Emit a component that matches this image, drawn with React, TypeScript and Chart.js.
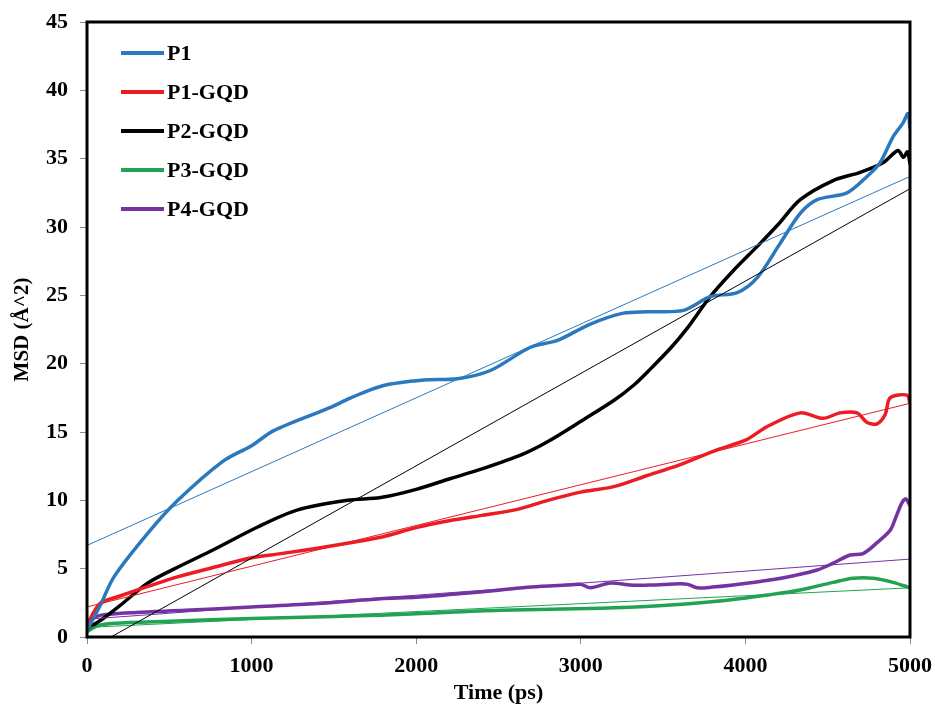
import React, { useEffect, useRef } from 'react';
import { Chart, registerables } from 'chart.js';

Chart.register(...registerables);

// ---- data ----
const seriesNames = ['P1', 'P1-GQD', 'P2-GQD', 'P3-GQD', 'P4-GQD'];
const seriesColors = ['#2A79BE', '#EC1C24', '#000000', '#21A353', '#7334A2'];

const p1Time = [0, 80, 164, 370, 552, 831, 1000, 1135, 1480, 1602, 1802, 2045, 2251, 2451, 2694, 2858, 3058, 3259, 3404, 3623, 3786, 3950, 4072, 4211, 4333, 4436, 4617, 4739, 4818, 4897, 4957, 4988, 5000];
const p1Msd = [0.5, 2.3, 4.4, 7.6, 10.0, 12.9, 14.0, 15.1, 16.8, 17.5, 18.4, 18.8, 18.9, 19.5, 21.2, 21.7, 22.9, 23.7, 23.8, 23.9, 24.9, 25.2, 26.3, 28.8, 31.0, 32.0, 32.5, 33.7, 34.7, 36.6, 37.6, 38.3, 37.2];

const p1gTime = [0, 40, 85, 200, 370, 550, 771, 1000, 1177, 1400, 1600, 1784, 2000, 2200, 2400, 2600, 2800, 3000, 3200, 3400, 3600, 3828, 4000, 4133, 4333, 4472, 4575, 4678, 4739, 4800, 4850, 4879, 4982, 5000];
const p1gMsd = [0.8, 1.8, 2.5, 3.0, 3.7, 4.4, 5.1, 5.8, 6.1, 6.5, 6.9, 7.3, 8.0, 8.5, 8.9, 9.3, 10.0, 10.6, 11.0, 11.8, 12.6, 13.7, 14.4, 15.4, 16.4, 16.0, 16.4, 16.4, 15.7, 15.6, 16.3, 17.5, 17.7, 17.1];

const p2gTime = [0, 85, 200, 370, 550, 771, 1037, 1280, 1584, 1784, 2000, 2209, 2400, 2652, 2800, 3016, 3200, 3319, 3422, 3550, 3647, 3786, 3926, 4090, 4200, 4333, 4533, 4697, 4836, 4927, 4960, 4985, 5000];
const p2gMsd = [0.6, 1.24, 2.3, 3.95, 5.1, 6.4, 8.05, 9.3, 10.0, 10.2, 10.8, 11.6, 12.3, 13.4, 14.3, 15.9, 17.3, 18.4, 19.6, 21.2, 22.6, 24.9, 26.8, 28.8, 30.2, 32.0, 33.4, 34.0, 34.7, 35.6, 35.1, 35.5, 34.6];

const p3gTime = [0, 60, 164, 500, 1000, 1500, 1784, 2000, 2512, 3119, 3500, 3726, 3900, 4133, 4333, 4533, 4654, 4776, 4897, 5000];
const p3gMsd = [0.4, 0.8, 1.0, 1.15, 1.35, 1.5, 1.6, 1.7, 1.95, 2.1, 2.3, 2.5, 2.7, 3.07, 3.44, 4.0, 4.3, 4.3, 4.0, 3.6];

const p4gTime = [0, 30, 85, 300, 600, 1000, 1400, 1784, 2000, 2300, 2512, 2700, 2918, 3000, 3058, 3180, 3300, 3422, 3604, 3650, 3707, 3800, 3926, 4169, 4300, 4436, 4533, 4636, 4715, 4800, 4879, 4909, 4950, 4975, 5000];
const p4gMsd = [0.8, 1.3, 1.6, 1.8, 1.95, 2.2, 2.45, 2.8, 2.9, 3.2, 3.44, 3.65, 3.8, 3.85, 3.6, 3.95, 3.8, 3.8, 3.9, 3.85, 3.6, 3.65, 3.8, 4.2, 4.5, 4.9, 5.4, 6.0, 6.1, 6.9, 7.8, 8.6, 9.8, 10.1, 9.6];

// linear trend lines: [start time, end time], [start msd, end msd]
const trendTimes = [[0, 5000], [0, 5000], [146, 5000], [0, 5000], [0, 5000]];
const trendMsd = [[6.7, 33.7], [2.2, 17.1], [0, 32.8], [0.7, 3.6], [1.3, 5.7]];

const xTickValues = [0, 1000, 2000, 3000, 4000, 5000];
const yTickValues = [0, 5, 10, 15, 20, 25, 30, 35, 40, 45];
const xTitle = 'Time (ps)';
const yTitle = 'MSD (Å^2)';

const seriesTimes = [p1Time, p1gTime, p2gTime, p3gTime, p4gTime];
const seriesMsd = [p1Msd, p1gMsd, p2gMsd, p3gMsd, p4gMsd];

const FONT = "'Liberation Serif', 'Times New Roman', serif";

function zip(xs: number[], ys: number[]) {
  return xs.map((x, i) => ({ x, y: ys[i] }));
}

const framePlugin = {
  id: 'frameBox',
  afterDatasetsDraw(chart: any) {
    const { ctx, chartArea: a } = chart;
    ctx.save();
    ctx.strokeStyle = '#000';
    ctx.lineWidth = 3;
    ctx.strokeRect(a.left, a.top, a.right - a.left, a.bottom - a.top);
    ctx.restore();
  },
};

const insideLegend = {
  id: 'insideLegend',
  afterDraw(chart: any) {
    const { ctx, chartArea: a } = chart;
    ctx.save();
    chart.data.datasets.forEach((ds: any) => {
      if (ds.isTrend) return;
      const i = ds.legendIndex;
      const y = a.top + 31 + i * 39;
      ctx.strokeStyle = ds.borderColor;
      ctx.lineWidth = 4;
      ctx.beginPath();
      ctx.moveTo(a.left + 34, y);
      ctx.lineTo(a.left + 77, y);
      ctx.stroke();
      ctx.fillStyle = '#000';
      ctx.font = `bold 22px ${FONT}`;
      ctx.textBaseline = 'middle';
      ctx.textAlign = 'left';
      ctx.fillText(ds.label, a.left + 80, y + 1);
    });
    ctx.restore();
  },
};

export default function App() {
  const canvasRef = useRef<HTMLCanvasElement | null>(null);

  useEffect(() => {
    document.body.style.margin = '0';
    const canvas = canvasRef.current;
    if (!canvas) return;

    const curveSets = seriesNames.map((name, i) => ({
      label: name,
      legendIndex: i,
      isTrend: false,
      data: zip(seriesTimes[i], seriesMsd[i]),
      borderColor: seriesColors[i],
      backgroundColor: seriesColors[i],
      borderWidth: 3.5,
      pointRadius: 0,
      tension: 0.3,
      fill: false,
      order: 2,
    }));
    const trendSets = seriesNames.map((name, i) => ({
      label: name + ' trend',
      isTrend: true,
      data: zip(trendTimes[i], trendMsd[i]),
      borderColor: seriesColors[i],
      backgroundColor: seriesColors[i],
      borderWidth: 1,
      pointRadius: 0,
      tension: 0,
      fill: false,
      order: 1,
    }));

    const chart = new Chart(canvas, {
      type: 'line',
      data: { datasets: [...curveSets, ...trendSets] as any },
      options: {
        animation: false,
        responsive: false,
        maintainAspectRatio: false,
        layout: { padding: { top: 22, right: 25, left: 0, bottom: 0 } },
        plugins: {
          legend: { display: false },
          tooltip: { enabled: false },
        },
        scales: {
          x: {
            type: 'linear',
            min: 0,
            max: 5000,
            afterFit: (s: any) => {
              s.height = 74;
              s.paddingLeft = 0;
              s.paddingRight = 0;
            },
            afterBuildTicks: (s: any) => { s.ticks = xTickValues.map((v) => ({ value: v })); },
            ticks: {
              color: '#000',
              padding: 9,
              maxRotation: 0,
              callback: (v: any) => String(v),
              font: { family: FONT, size: 22, weight: 'bold' },
            },
            grid: {
              drawOnChartArea: false,
              drawTicks: true,
              tickLength: 7,
              tickColor: '#8a8a8a',
              color: '#8a8a8a',
            },
            border: { display: false },
            title: {
              display: true,
              text: xTitle,
              color: '#000',
              font: { family: FONT, size: 22, weight: 'bold' },
              padding: { top: 0, bottom: 4 },
            },
          },
          y: {
            type: 'linear',
            min: 0,
            max: 45,
            afterFit: (s: any) => {
              s.width = 87;
              s.paddingTop = 0;
              s.paddingBottom = 0;
            },
            afterBuildTicks: (s: any) => { s.ticks = yTickValues.map((v) => ({ value: v })); },
            ticks: {
              color: '#000',
              padding: 12,
              callback: (v: any) => String(v),
              font: { family: FONT, size: 22, weight: 'bold' },
            },
            grid: {
              drawOnChartArea: false,
              drawTicks: true,
              tickLength: 7,
              tickColor: '#8a8a8a',
              color: '#8a8a8a',
            },
            border: { display: false },
            title: {
              display: true,
              text: yTitle,
              color: '#000',
              font: { family: FONT, size: 21, weight: 'bold' },
              padding: { top: 10, bottom: 0 },
            },
          },
        },
      },
      plugins: [framePlugin, insideLegend],
    });

    return () => chart.destroy();
  }, []);

  return (
    <div style={{ width: 935, height: 711, background: '#fff' }}>
      <canvas ref={canvasRef} width={935} height={711} />
    </div>
  );
}
